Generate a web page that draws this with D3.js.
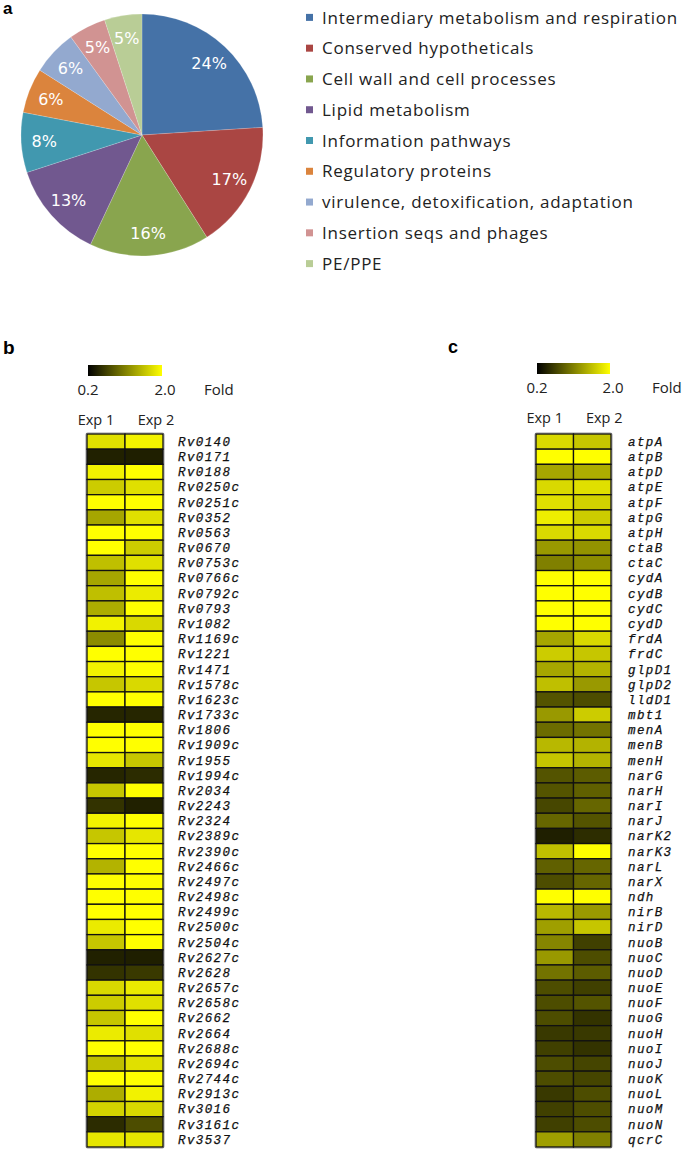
<!DOCTYPE html>
<html><head><meta charset="utf-8">
<script src="https://cdn.jsdelivr.net/npm/d3@7"></script>
<style>body{margin:0;background:#fff}svg{display:block}</style>
</head><body>
<svg id="chart" width="685" height="1152"></svg>
<script>
// ---- Panel a: pie ----
const pieCategories = ["Intermediary metabolism and respiration","Conserved hypotheticals","Cell wall and cell processes","Lipid metabolism","Information pathways","Regulatory proteins","virulence, detoxification, adaptation","Insertion seqs and phages","PE/PPE"];
const pieValues = [24,17,16,13,8,6,6,5,5];
const pieColors = ["#4572A7","#AA4643","#89A54E","#71588F","#4198AF","#DB843D","#93A9CF","#D19392","#B9CD96"];

// ---- Panel b heatmap ----
const genesB = ["Rv0140","Rv0171","Rv0188","Rv0250c","Rv0251c","Rv0352","Rv0563","Rv0670","Rv0753c","Rv0766c","Rv0792c","Rv0793","Rv1082","Rv1169c","Rv1221","Rv1471","Rv1578c","Rv1623c","Rv1733c","Rv1806","Rv1909c","Rv1955","Rv1994c","Rv2034","Rv2243","Rv2324","Rv2389c","Rv2390c","Rv2466c","Rv2497c","Rv2498c","Rv2499c","Rv2500c","Rv2504c","Rv2627c","Rv2628","Rv2657c","Rv2658c","Rv2662","Rv2664","Rv2688c","Rv2694c","Rv2744c","Rv2913c","Rv3016","Rv3161c","Rv3537"];
const foldB1 = [1.78,0.43,1.91,1.64,2.0,1.37,2.0,2.0,1.55,1.37,1.55,1.42,1.91,1.19,2.0,1.91,1.6,2.0,0.47,2.0,2.0,1.82,0.47,1.6,0.56,1.91,1.6,2.0,1.46,2.0,2.0,2.0,1.86,1.6,0.43,0.56,1.73,1.64,1.6,1.86,2.0,1.55,2.0,1.42,1.68,0.51,1.82];
const foldB2 = [1.91,0.42,2.0,1.78,2.0,1.78,2.0,1.64,1.78,2.0,1.86,2.0,1.73,2.0,2.0,2.0,1.73,2.0,0.47,2.0,2.0,1.6,0.51,2.0,0.43,2.0,1.82,2.0,2.0,2.0,2.0,2.0,2.0,2.0,0.42,0.6,1.86,1.78,2.0,1.78,2.0,1.78,2.0,1.91,1.73,0.74,1.82];

// ---- Panel c heatmap ----
const genesC = ["atpA","atpB","atpD","atpE","atpF","atpG","atpH","ctaB","ctaC","cydA","cydB","cydC","cydD","frdA","frdC","glpD1","glpD2","lldD1","mbt1","menA","menB","menH","narG","narH","narI","narJ","narK2","narK3","narL","narX","ndh","nirB","nirD","nuoB","nuoC","nuoD","nuoE","nuoF","nuoG","nuoH","nuoI","nuoJ","nuoK","nuoL","nuoM","nuoN","qcrC"];
const foldC1 = [1.73,2.0,1.37,1.73,1.78,1.87,1.73,1.28,1.1,2.0,2.0,2.0,2.0,1.37,1.64,1.37,1.55,0.79,1.28,0.96,1.5,1.6,0.79,0.79,0.7,0.92,0.42,1.55,0.88,0.74,2.0,1.5,1.32,1.14,1.28,1.01,0.74,0.74,0.74,0.6,0.65,0.74,0.74,0.6,0.65,0.65,1.32];
const foldC2 = [1.6,2.0,1.42,1.78,1.68,1.64,1.73,1.24,1.19,2.0,2.0,2.0,2.0,1.73,1.6,1.46,1.28,0.74,1.64,1.01,1.46,1.46,0.85,0.88,0.92,0.79,0.52,2.0,0.92,0.92,2.0,1.28,1.6,0.65,0.74,0.85,0.65,0.79,0.56,0.6,0.56,0.69,0.69,0.74,0.74,0.74,1.1];

const experiments = ["Exp 1","Exp 2"];
const foldTicks = ["0.2","2.0"];

const svg = d3.select("#chart");
const sans = "'Open Sans', 'Noto Sans', sans-serif";
const bold = "Arial, 'Liberation Sans', sans-serif";

// panel letters
svg.append("text").attr("x",3).attr("y",14).text("a").attr("font-family",bold).attr("font-weight","bold").attr("font-size",17);
svg.append("text").attr("x",3).attr("y",354).text("b").attr("font-family",bold).attr("font-weight","bold").attr("font-size",19);
svg.append("text").attr("x",448).attr("y",353).text("c").attr("font-family",bold).attr("font-weight","bold").attr("font-size",18);

// ---- Pie ----
const cx = 142, cy = 135, R = 121;
const pie = d3.pie().sort(null).value(d=>d.v);
const arcs = pie(pieValues.map((v,i)=>({v, c:pieCategories[i], col:pieColors[i]})));
const arc = d3.arc().innerRadius(0).outerRadius(R);
const labelArc = d3.arc().innerRadius(98).outerRadius(98);
const gp = svg.append("g").attr("transform",`translate(${cx},${cy})`);
gp.selectAll("path").data(arcs).join("path").attr("d",arc).attr("fill",d=>d.data.col).attr("stroke","#fff").attr("stroke-width",0.3).attr("stroke-opacity",0.6);
gp.selectAll("text").data(arcs).join("text")
  .attr("transform",d=>`translate(${labelArc.centroid(d)})`)
  .attr("text-anchor","middle").attr("dy","0.36em")
  .attr("fill","#fff").attr("font-family","'DejaVu Sans', Verdana, sans-serif").attr("font-size",16)
  .text(d=>d.data.v+"%");

// legend
const legY = d3.scaleBand().domain(pieCategories).range([2, 279]);
const lg = svg.append("g");
lg.selectAll("rect").data(pieCategories).join("rect")
  .attr("x",306).attr("y",d=>legY(d)+legY.bandwidth()/2-3.5).attr("width",7).attr("height",7)
  .attr("fill",(d,i)=>pieColors[i]);
lg.selectAll("text").data(pieCategories).join("text")
  .attr("x",322).attr("y",d=>legY(d)+legY.bandwidth()/2).attr("dy","0.36em")
  .attr("font-family",sans).attr("font-size",17).attr("letter-spacing",0.75).attr("fill","#222")
  .text(d=>d);

// ---- Heatmaps ----
const color = d3.scaleLinear().domain([0.2,2.0]).range(["#000000","#ffff00"]).clamp(true);
const defs = svg.append("defs");
const grad = defs.append("linearGradient").attr("id","cbar");
grad.append("stop").attr("offset","0%").attr("stop-color",color(0.2));
grad.append("stop").attr("offset","100%").attr("stop-color",color(2.0));

function heatmap(x0, x1, genes, e1, e2, barY, tickY, expY, labelX) {
  const g = svg.append("g");
  // color bar
  const cb = d3.scaleLinear().domain([0.2,2.0]).range([x0+1, x1-1]);
  g.append("rect").attr("x",cb(0.2)).attr("y",barY).attr("width",cb(2.0)-cb(0.2)).attr("height",11).attr("fill","url(#cbar)");
  g.selectAll("text.tick").data(foldTicks).join("text").attr("class","tick")
    .attr("x",(d,i)=>cb(+d)+(i?3:0)).attr("y",tickY).attr("text-anchor","middle")
    .attr("font-family",sans).attr("font-size",15).attr("fill","#222").text(d=>d);
  g.append("text").attr("x",cb(2.0)+42).attr("y",tickY).attr("font-family",sans).attr("font-size",15).attr("fill","#222").text("Fold");
  const xs = d3.scaleBand().domain(experiments).range([x0,x1]);
  g.selectAll("text.exp").data(experiments).join("text").attr("class","exp")
    .attr("x",(d,i)=>xs(d)+xs.bandwidth()/2+(i?12:-10)).attr("y",expY).attr("text-anchor","middle")
    .attr("font-family",sans).attr("font-size",14.5).attr("fill","#222").text(d=>d);
  const ys = d3.scaleBand().domain(genes).range([434,1147]);
  const cells = [];
  genes.forEach((gn,i)=>{cells.push({g:gn,e:"Exp 1",v:e1[i]});cells.push({g:gn,e:"Exp 2",v:e2[i]});});
  g.append("rect").attr("x",x0-1).attr("y",433).attr("width",x1-x0+2).attr("height",1147-433+1).attr("fill","none").attr("stroke","#999").attr("stroke-width",1).attr("rx",1.5);
  g.selectAll("rect.cell").data(cells).join("rect").attr("class","cell")
    .attr("x",d=>xs(d.e)).attr("y",d=>ys(d.g)).attr("width",xs.bandwidth()).attr("height",ys.bandwidth())
    .attr("fill",d=>color(d.v)).attr("stroke","#111").attr("stroke-width",1.3);
  g.selectAll("text.gene").data(genes).join("text").attr("class","gene")
    .attr("x",labelX).attr("y",d=>ys(d)+ys.bandwidth()/2).attr("dy","0.35em")
    .attr("font-family","'Liberation Mono', 'Courier New', monospace").attr("font-style","italic")
    .attr("font-size",12.5).attr("letter-spacing",1.4).attr("fill","#111")
    .attr("stroke","#111").attr("stroke-width",0.25).text(d=>d);
}
heatmap(87, 163, genesB, foldB1, foldB2, 365, 395, 425, 178);
heatmap(536, 611, genesC, foldC1, foldC2, 363, 393, 423, 628);
</script>
</body></html>
